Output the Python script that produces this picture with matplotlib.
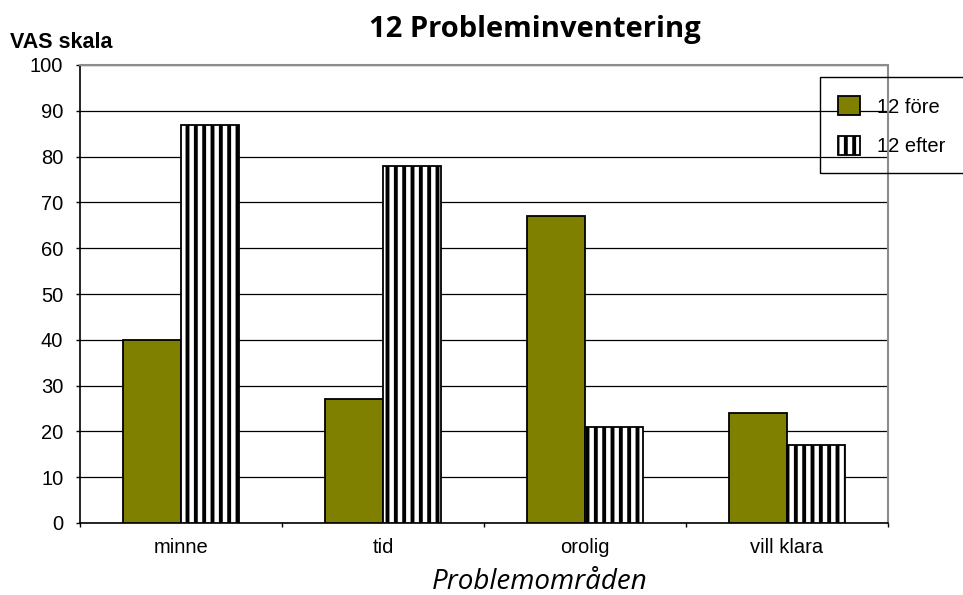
import matplotlib
matplotlib.use("Agg")
import matplotlib.pyplot as plt
import numpy as np
from matplotlib.patches import Rectangle

# VAS scores per problem area, before and after
categories = ["minne", "tid", "orolig", "vill klara"]
fore = [40, 27, 67, 24]
efter = [87, 78, 21, 17]
series_labels = ["12 före", "12 efter"]

plt.rcParams["font.family"] = ["Liberation Sans", "DejaVu Sans"]
plt.rcParams["hatch.linewidth"] = 2.8
plt.rcParams["hatch.color"] = "black"

fig = plt.figure(figsize=(9.63, 5.95), dpi=100)
ax = fig.add_axes([80 / 963, 1 - 523 / 595, 808 / 963, 458 / 595])

x = np.arange(len(categories))
w = 0.287
ax.bar(x - w / 2, fore, w, color="#808000", edgecolor="black", linewidth=1.3,
       label=series_labels[0], zorder=3)
ax.bar(x + w / 2, efter, w, color="white", edgecolor="black", linewidth=1.3,
       hatch="||", label=series_labels[1], zorder=3)

ax.set_xlim(-0.5, len(categories) - 0.5)
ax.set_ylim(0, 100)
ax.set_yticks(np.arange(0, 101, 10))
ax.yaxis.grid(True, color="black", linewidth=0.9, zorder=0)
ax.set_axisbelow(True)

ax.set_xticks(x)
ax.set_xticklabels(categories, fontsize=14.5)
ax.set_xticks(np.arange(-0.5, len(categories), 1), minor=True)
ax.tick_params(axis="x", which="major", length=0, pad=11)
ax.tick_params(axis="x", which="minor", length=3, width=1, direction="out")
ax.tick_params(axis="y", length=3, width=1, direction="out", labelsize=14.5, pad=9)

for s in ["left", "bottom"]:
    ax.spines[s].set_color("black")
    ax.spines[s].set_linewidth(1.2)
for s in ["top", "right"]:
    ax.spines[s].set_color("#8c8c8c")
    ax.spines[s].set_linewidth(1.5)

fig.text(535 / 963, 1 - 30 / 595, "12 Probleminventering", ha="center", va="center",
         fontsize=21, fontweight="bold", family="Open Sans")
fig.text(10 / 963, 1 - 42 / 595, "VAS skala", ha="left", va="center",
         fontsize=15.5, fontweight="bold")
fig.text(540 / 963, 1 - 582 / 595, "Problemområden", ha="center", va="center",
         fontsize=20, style="italic", family="Open Sans")

# legend box runs off the right edge
fig.patches.append(Rectangle((820 / 963, 1 - 173 / 595), 200 / 963, 96 / 595,
                             transform=fig.transFigure, fill=False,
                             edgecolor="black", linewidth=1))
ax.legend(loc="upper left", bbox_to_anchor=(838 / 963, 1 - 96 / 595),
          bbox_transform=fig.transFigure, frameon=False, fontsize=14.5,
          handlelength=1.1, handleheight=1.1, labelspacing=0.95,
          handletextpad=0.85, borderpad=0, borderaxespad=0)

fig.savefig("out.png", dpi=100)
